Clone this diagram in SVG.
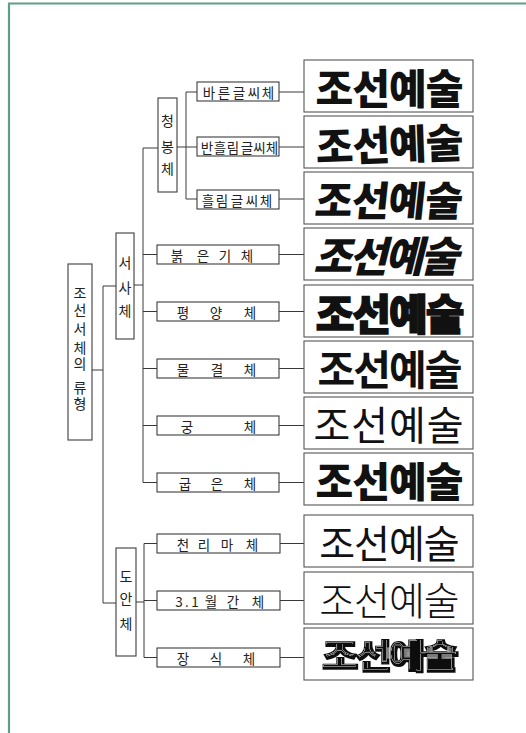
<svg xmlns="http://www.w3.org/2000/svg" width="526" height="733" viewBox="0 0 526 733">
<style>
.box{fill:#fff;stroke:#3c3c3c;stroke-width:1.1}
.ibox{fill:#fff;stroke:#555;stroke-width:1.1}
.ln{fill:none;stroke:#3a3a3a;stroke-width:1}
.lb{font-family:"Noto Sans CJK KR","Noto Sans",sans-serif;font-size:13.5px;fill:#222;text-anchor:middle;dominant-baseline:central}
.vt{font-family:"Noto Sans CJK KR","Noto Sans",sans-serif;font-size:14px;fill:#222;text-anchor:middle;dominant-baseline:central}
.big{font-family:"Noto Sans CJK KR",sans-serif;text-anchor:middle;dominant-baseline:central;fill:#111}
</style>
<defs>
<filter id="inline" x="-10%" y="-20%" width="120%" height="140%">
<feMorphology in="SourceAlpha" operator="erode" radius="1.7" result="e1"/>
<feMorphology in="SourceAlpha" operator="erode" radius="2.3" result="e2"/>
<feComposite in="e1" in2="e2" operator="out" result="ring"/>
<feOffset in="ring" dx="-0.6" dy="-0.9" result="ringo"/>
<feComposite in="ringo" in2="SourceAlpha" operator="in" result="ringc"/>
<feFlood flood-color="#ffffff" result="w"/>
<feComposite in="w" in2="ringc" operator="in" result="wr"/>
<feMerge><feMergeNode in="SourceGraphic"/><feMergeNode in="wr"/></feMerge>
</filter>
</defs>
<rect width="526" height="733" fill="#fff"/>
<path d="M9 740 V3.5 H530" fill="none" stroke="#5f9f84" stroke-width="2.2"/>

<g id="connectors">
<path class="ln" d="M92 370 H103 M103 286 V603 M103 286 H116 M103 603 H116"/>
<path class="ln" d="M134 285 H143 M143 148 V482.5 M143 148 H158 M143 254.5 H157 M143 311.5 H157 M143 368.5 H157 M143 425.5 H157 M143 482.5 H157"/>
<path class="ln" d="M177 147 H186 M186 92 V199 M186 92 H197 M186 147 H197 M186 199 H197"/>
<path class="ln" d="M136 602 H144 M144 543.5 V657.5 M144 543.5 H157 M144 600.5 H157 M144 657.5 H157"/>
<path class="ln" d="M279 92 H304 M279 147 H304 M279 199 H304 M279 254.5 H304 M279 311.5 H304 M279 368.5 H304 M279 425.5 H304 M279 482.5 H304 M280 543.5 H304 M280 600.5 H304 M280 657.5 H304"/>
</g>

<g id="root"><rect class="box" x="68" y="264" width="24" height="176"/>
<text class="vt" x="80 80 80 80 80 80 80 80" y="292 309 328 347 363 375 387 403">조선서체의 류형</text></g>

<g id="seosa"><rect class="box" x="116" y="233" width="18" height="106"/>
<text class="vt" x="125 125 125" y="262 287 310">서사체</text></g>

<g id="doan"><rect class="box" x="116" y="548" width="20" height="108"/>
<text class="vt" x="126 126 126" y="576 598 623">도안체</text></g>

<g id="cheongbong"><rect class="box" x="158" y="98" width="19" height="94"/>
<text class="vt" x="167.5 167.5 167.5" y="120 146 168">청봉체</text></g>

<g id="bareun"><rect class="box" x="197" y="82" width="82" height="19"/>
<text class="lb" x="209 224 239 254 268" y="91.5">바른글씨체</text></g>
<g id="banheullim"><rect class="box" x="197" y="137" width="82" height="19"/>
<text class="lb" x="207 220 233 247 259.5 272" y="146.5">반흘림글씨체</text></g>
<g id="heullim"><rect class="box" x="197" y="190" width="82" height="19"/>
<text class="lb" x="208 222 237 252 266" y="199.5">흘림글씨체</text></g>

<g id="bulgeungi"><rect class="box" x="157" y="245" width="122" height="19"/>
<text class="lb" x="177 203 225 247" y="254.5">붉은기체</text></g>
<g id="pyeongyang"><rect class="box" x="157" y="302" width="122" height="19"/>
<text class="lb" x="183 216 250" y="311.5">평양체</text></g>
<g id="mulgyeol"><rect class="box" x="157" y="359" width="122" height="19"/>
<text class="lb" x="183 217 250" y="368.5">물결체</text></g>
<g id="gung"><rect class="box" x="157" y="416" width="122" height="19"/>
<text class="lb" x="187 250" y="425.5">궁체</text></g>
<g id="gubeun"><rect class="box" x="157" y="473" width="122" height="19"/>
<text class="lb" x="185 217 250" y="482.5">굽은체</text></g>

<g id="cheollima"><rect class="box" x="157" y="534" width="123" height="19"/>
<text class="lb" x="183 204 227 252" y="543.5">천리마체</text></g>
<g id="wolgan"><rect class="box" x="157" y="591" width="123" height="19"/>
<text class="lb" x="179 187 195 211 233 258" y="600.5">3.1월간체</text></g>
<g id="jangsik"><rect class="box" x="157" y="648" width="123" height="19"/>
<text class="lb" x="183 216 249" y="657.5">장식체</text></g>

<g id="s1"><rect class="ibox" x="304" y="60" width="169" height="52"/>
<text class="big" x="389" y="86" font-size="41" font-weight="900" letter-spacing="-1">조선예술</text></g>
<g id="s2"><rect class="ibox" x="304" y="116" width="169" height="52"/>
<text class="big" x="389" y="142" font-size="41" font-weight="900" letter-spacing="-1" transform="rotate(-2 389 142)">조선예술</text></g>
<g id="s3"><rect class="ibox" x="304" y="172" width="169" height="52"/>
<text class="big" x="389" y="198" font-size="41" font-weight="900" letter-spacing="-1" transform="translate(389 198) skewX(-6) translate(-389 -198)">조선예술</text></g>
<g id="s4"><rect class="ibox" x="304" y="228" width="169" height="52"/>
<text class="big" x="389" y="254" font-size="42" font-weight="900" letter-spacing="-3" transform="translate(389 254) skewX(-14) translate(-389 -254)">조선예술</text></g>
<g id="s5"><rect class="ibox" x="304" y="285" width="169" height="52"/>
<text class="big" x="389" y="311" font-size="42" font-weight="900" letter-spacing="-2" stroke="#111" stroke-width="1.5">조선예술</text></g>
<g id="s6"><rect class="ibox" x="304" y="341" width="169" height="52"/>
<text class="big" x="389" y="367" font-size="41" font-weight="700" letter-spacing="-2">조선예술</text></g>
<g id="s7"><rect class="ibox" x="304" y="397" width="169" height="52"/>
<text class="big" x="389" y="423" font-size="40" font-weight="400" letter-spacing="1">조선예술</text></g>
<g id="s8"><rect class="ibox" x="304" y="453" width="169" height="52"/>
<text class="big" x="389" y="479" font-size="41" font-weight="900" letter-spacing="-1">조선예술</text></g>
<g id="s9"><rect class="ibox" x="304" y="515" width="169" height="52"/>
<text class="big" x="389" y="541" font-size="39" font-weight="400" letter-spacing="-1">조선예술</text></g>
<g id="s10"><rect class="ibox" x="304" y="572" width="169" height="52"/>
<text class="big" x="389" y="598" font-size="39" font-weight="300" letter-spacing="-1">조선예술</text></g>
<g id="s11"><rect class="ibox" x="304" y="628" width="169" height="52"/>
<text class="big" x="389" y="654" font-size="38" font-weight="900" letter-spacing="-3" stroke="#111" stroke-width="1.6" filter="url(#inline)" transform="translate(389 654) scale(1.05 0.9) translate(-389 -654)">조선예술</text></g>
</svg>
